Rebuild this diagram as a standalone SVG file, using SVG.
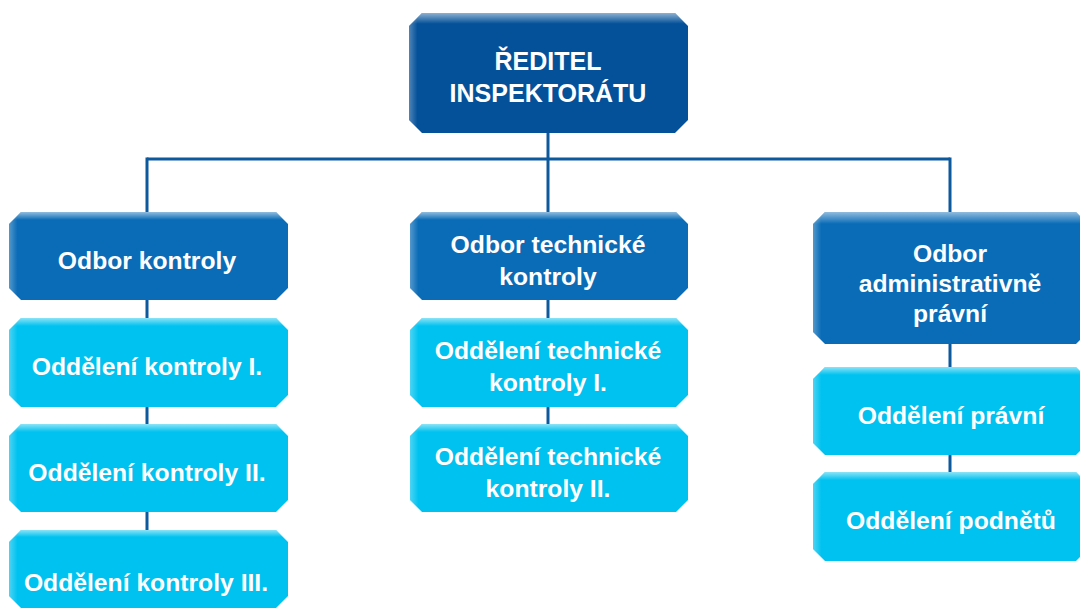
<svg xmlns="http://www.w3.org/2000/svg" width="1080" height="610" viewBox="0 0 1080 610">
<defs>
<linearGradient id="hiT" x1="0" y1="0" x2="0" y2="1">
<stop offset="0" stop-color="#fff" stop-opacity="0.55"/>
<stop offset="0.09" stop-color="#fff" stop-opacity="0"/>
</linearGradient>
<linearGradient id="hiL" x1="0" y1="0" x2="1" y2="0">
<stop offset="0" stop-color="#fff" stop-opacity="0.3"/>
<stop offset="0.03" stop-color="#fff" stop-opacity="0"/>
</linearGradient>
</defs>
<style>
.dark{fill:#04519a}
.mid{fill:#0a6cb7}
.light{fill:#00c2f0}
.t{font-family:"Liberation Sans",Arial,sans-serif;font-weight:bold;font-size:24.7px;fill:#fff;text-anchor:middle}
.tt{font-size:25px}
.conn{stroke:#0c5a9d;stroke-width:3;fill:none}
</style>
<rect width="1080" height="610" fill="#fff"/>
<g id="connectors">
<path class="conn" d="M548,133 V424"/>
<path class="conn" d="M147,159 H950"/>
<path class="conn" d="M147,157.5 V530"/>
<path class="conn" d="M950,157.5 V472"/>
</g>
<g id="reditel">
<polygon class="dark" points="422,13 675,13 688,26 688,120 675,133 422,133 409,120 409,26"/>
<polygon fill="url(#hiT)" points="422,13 675,13 688,26 688,120 675,133 422,133 409,120 409,26"/>
<polygon fill="url(#hiL)" points="422,13 675,13 688,26 688,120 675,133 422,133 409,120 409,26"/>
<text class="t tt" x="548" y="70">ŘEDITEL</text>
<text class="t tt" x="548" y="102">INSPEKTORÁTU</text>
</g>
<g id="odbor-kontroly">
<polygon class="mid" points="21,212 276,212 288,224 288,288 276,300 21,300 9,288 9,224"/>
<polygon fill="url(#hiT)" points="21,212 276,212 288,224 288,288 276,300 21,300 9,288 9,224"/>
<polygon fill="url(#hiL)" points="21,212 276,212 288,224 288,288 276,300 21,300 9,288 9,224"/>
<text class="t" x="147" y="269">Odbor kontroly</text>
</g>
<g id="oddeleni-kontroly-1">
<polygon class="light" points="21,318 276,318 288,330 288,395 276,407 21,407 9,395 9,330"/>
<polygon fill="url(#hiT)" points="21,318 276,318 288,330 288,395 276,407 21,407 9,395 9,330"/>
<polygon fill="url(#hiL)" points="21,318 276,318 288,330 288,395 276,407 21,407 9,395 9,330"/>
<text class="t" x="147" y="375">Oddělení kontroly I.</text>
</g>
<g id="oddeleni-kontroly-2">
<polygon class="light" points="21,424 276,424 288,436 288,500 276,512 21,512 9,500 9,436"/>
<polygon fill="url(#hiT)" points="21,424 276,424 288,436 288,500 276,512 21,512 9,500 9,436"/>
<polygon fill="url(#hiL)" points="21,424 276,424 288,436 288,500 276,512 21,512 9,500 9,436"/>
<text class="t" x="147" y="481">Oddělení kontroly II.</text>
</g>
<g id="oddeleni-kontroly-3">
<polygon class="light" points="21,530 276,530 288,542 288,596 276,608 21,608 9,596 9,542"/>
<polygon fill="url(#hiT)" points="21,530 276,530 288,542 288,596 276,608 21,608 9,596 9,542"/>
<polygon fill="url(#hiL)" points="21,530 276,530 288,542 288,596 276,608 21,608 9,596 9,542"/>
<text class="t" x="146" y="591">Oddělení kontroly III.</text>
</g>
<g id="odbor-technicke-kontroly">
<polygon class="mid" points="422,212 676,212 688,224 688,288 676,300 422,300 410,288 410,224"/>
<polygon fill="url(#hiT)" points="422,212 676,212 688,224 688,288 676,300 422,300 410,288 410,224"/>
<polygon fill="url(#hiL)" points="422,212 676,212 688,224 688,288 676,300 422,300 410,288 410,224"/>
<text class="t" x="548" y="253">Odbor technické</text>
<text class="t" x="548" y="285">kontroly</text>
</g>
<g id="oddeleni-technicke-kontroly-1">
<polygon class="light" points="422,318 676,318 688,330 688,395 676,407 422,407 410,395 410,330"/>
<polygon fill="url(#hiT)" points="422,318 676,318 688,330 688,395 676,407 422,407 410,395 410,330"/>
<polygon fill="url(#hiL)" points="422,318 676,318 688,330 688,395 676,407 422,407 410,395 410,330"/>
<text class="t" x="548" y="359">Oddělení technické</text>
<text class="t" x="548" y="391">kontroly I.</text>
</g>
<g id="oddeleni-technicke-kontroly-2">
<polygon class="light" points="422,424 676,424 688,436 688,500 676,512 422,512 410,500 410,436"/>
<polygon fill="url(#hiT)" points="422,424 676,424 688,436 688,500 676,512 422,512 410,500 410,436"/>
<polygon fill="url(#hiL)" points="422,424 676,424 688,436 688,500 676,512 422,512 410,500 410,436"/>
<text class="t" x="548" y="465">Oddělení technické</text>
<text class="t" x="548" y="497">kontroly II.</text>
</g>
<g id="odbor-administrativne-pravni">
<polygon class="mid" points="825,212 1076,212 1088,224 1088,332 1076,344 825,344 813,332 813,224"/>
<polygon fill="url(#hiT)" points="825,212 1076,212 1088,224 1088,332 1076,344 825,344 813,332 813,224"/>
<polygon fill="url(#hiL)" points="825,212 1076,212 1088,224 1088,332 1076,344 825,344 813,332 813,224"/>
<text class="t" x="950" y="262">Odbor</text>
<text class="t" x="950" y="292">administrativně</text>
<text class="t" x="950" y="322">právní</text>
</g>
<g id="oddeleni-pravni">
<polygon class="light" points="825,367 1076,367 1088,379 1088,443 1076,455 825,455 813,443 813,379"/>
<polygon fill="url(#hiT)" points="825,367 1076,367 1088,379 1088,443 1076,455 825,455 813,443 813,379"/>
<polygon fill="url(#hiL)" points="825,367 1076,367 1088,379 1088,443 1076,455 825,455 813,443 813,379"/>
<text class="t" x="951" y="424">Oddělení právní</text>
</g>
<g id="oddeleni-podnetu">
<polygon class="light" points="825,472 1076,472 1088,484 1088,549 1076,561 825,561 813,549 813,484"/>
<polygon fill="url(#hiT)" points="825,472 1076,472 1088,484 1088,549 1076,561 825,561 813,549 813,484"/>
<polygon fill="url(#hiL)" points="825,472 1076,472 1088,484 1088,549 1076,561 825,561 813,549 813,484"/>
<text class="t" x="951" y="529">Oddělení podnětů</text>
</g>
</svg>
